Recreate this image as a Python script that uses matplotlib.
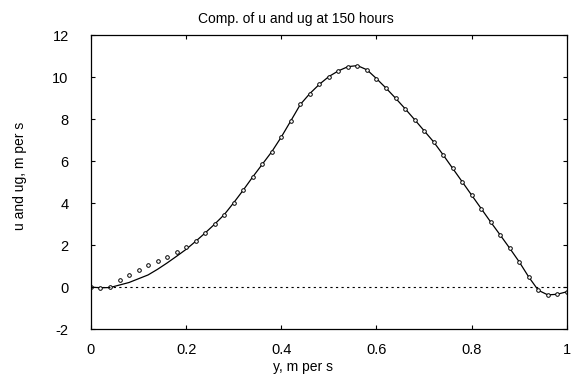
import matplotlib
matplotlib.use("Agg")
import matplotlib.pyplot as plt
import numpy as np

plt.rcParams['font.family'] = ['Liberation Sans', 'DejaVu Sans']
plt.rcParams['axes.unicode_minus'] = False

y_pos = [0.00, 0.02, 0.04, 0.06, 0.08, 0.10, 0.12, 0.14, 0.16, 0.18,
         0.20, 0.22, 0.24, 0.26, 0.28, 0.30, 0.32, 0.34, 0.36, 0.38,
         0.40, 0.42, 0.44, 0.46, 0.48, 0.50, 0.52, 0.54, 0.56, 0.58,
         0.60, 0.62, 0.64, 0.66, 0.68, 0.70, 0.72, 0.74, 0.76, 0.78,
         0.80, 0.82, 0.84, 0.86, 0.88, 0.90, 0.92, 0.94, 0.96, 0.98, 1.00]

u_vals = [0.00, -0.03, -0.02, 0.10, 0.22, 0.40, 0.58, 0.85, 1.15, 1.47,
          1.80, 2.18, 2.58, 3.00, 3.45, 4.02, 4.62, 5.25, 5.85, 6.45,
          7.15, 7.92, 8.70, 9.22, 9.66, 10.03, 10.30, 10.50, 10.55, 10.35,
          9.93, 9.48, 9.00, 8.50, 7.98, 7.45, 6.92, 6.30, 5.66, 5.02,
          4.38, 3.74, 3.10, 2.48, 1.85, 1.20, 0.48, -0.15, -0.37, -0.34, -0.22]

ug_vals = [0.00, -0.05, 0.02, 0.35, 0.58, 0.80, 1.03, 1.23, 1.42, 1.65,
           1.92, 2.22, 2.60, 3.00, 3.45, 4.02, 4.62, 5.25, 5.85, 6.45,
           7.15, 7.92, 8.70, 9.22, 9.66, 10.03, 10.30, 10.50, 10.55, 10.35,
           9.93, 9.48, 9.00, 8.50, 7.98, 7.45, 6.92, 6.30, 5.66, 5.02,
           4.38, 3.74, 3.10, 2.48, 1.85, 1.20, 0.48, -0.15, -0.37, -0.34, -0.22]

x_ticks = [0, 0.2, 0.4, 0.6, 0.8, 1]
x_tick_labels = ['0', '0.2', '0.4', '0.6', '0.8', '1']
y_ticks = [-2, 0, 2, 4, 6, 8, 10, 12]

fig = plt.figure(figsize=(5.72, 3.74), dpi=100)
ax = fig.add_axes([0.159, 0.120, 0.832, 0.786])

ax.plot(y_pos, u_vals, color='black', linewidth=0.9)
ax.plot(y_pos, ug_vals, linestyle='none', marker='o', markersize=2.6,
        markerfacecolor='white', markeredgecolor='black', markeredgewidth=0.7)
ax.axhline(0, color='black', linewidth=0.8, linestyle=(0, (2, 3)))

ax.set_xlim(0, 1)
ax.set_ylim(-2, 12)
ax.set_xticks(x_ticks)
ax.set_xticklabels(x_tick_labels)
ax.set_yticks(y_ticks)
ax.tick_params(direction='in', top=True, right=True, labelsize=10.5, length=3)
ax.tick_params(axis='x', pad=10)
ax.tick_params(axis='y', pad=16)
for s in ax.spines.values():
    s.set_linewidth(0.9)

fig.text(296 / 572, 1 - 19 / 374, 'Comp. of u and ug at 150 hours', fontsize=10,
         ha='center', va='center')
fig.text(303 / 572, 1 - 367 / 374, 'y, m per s', fontsize=10,
         ha='center', va='center')
fig.text(20 / 572, 1 - 176 / 374, 'u and ug, m per s', fontsize=10,
         ha='center', va='center', rotation=90)

fig.savefig('out.png', dpi=100)
